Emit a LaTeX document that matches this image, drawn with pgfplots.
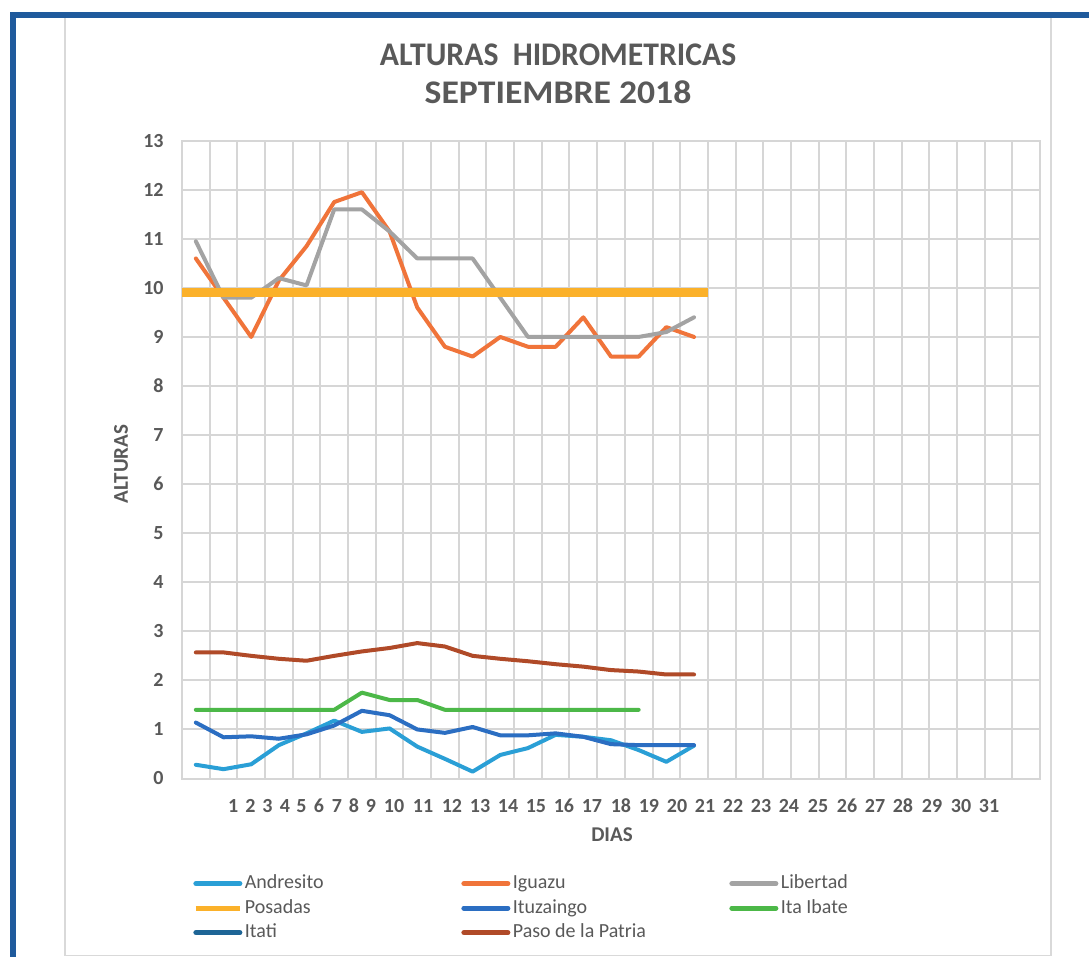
\documentclass[border=0pt]{standalone}
\usepackage{pgfplots}
\pgfplotsset{compat=1.18}
\usepackage{fontspec}
\setmainfont{Carlito}
\definecolor{frameblue}{HTML}{1F5A9C}
\definecolor{boxgray}{HTML}{D9D9D9}
\definecolor{gridgray}{HTML}{D6D6D6}
\definecolor{labelgray}{HTML}{595959}
\definecolor{cAndresito}{HTML}{2A9FD6}
\definecolor{cIguazu}{HTML}{F0743A}
\definecolor{cLibertad}{HTML}{A3A3A3}
\definecolor{cPosadas}{HTML}{FBB12A}
\definecolor{cItuzaingo}{HTML}{2B6EC2}
\definecolor{cItaIbate}{HTML}{4CB848}
\definecolor{cItati}{HTML}{1E6596}
\definecolor{cPaso}{HTML}{B04A28}
\begin{document}
\begin{tikzpicture}
\path[use as bounding box] (0pt,0pt) rectangle (544.5pt,-478.5pt);
\fill[white] (0pt,0pt) rectangle (544.5pt,-478.5pt);
\draw[boxgray, line width=0.7pt] (32.5pt,-8pt) -- (32.5pt,-478pt);
\draw[boxgray, line width=0.7pt] (525.5pt,-8pt) -- (525.5pt,-478pt);
\draw[boxgray, line width=0.5pt] (32.5pt,-477.8pt) -- (525.5pt,-477.8pt);
\draw[frameblue, line width=3pt] (6.3pt,-478.5pt) -- (6.3pt,-7.5pt) -- (544.5pt,-7.5pt);
\node[font=\fontsize{16.5}{20}\selectfont\bfseries, text=labelgray, anchor=base] at (279pt,-33pt) {\scalebox{0.96}[1]{ALTURAS\ \ HIDROMETRICAS}};
\node[font=\fontsize{16.5}{20}\selectfont\bfseries, text=labelgray, anchor=base] at (279pt,-52pt) {\scalebox{1.08}[1]{SEPTIEMBRE 2018}};
\node[font=\fontsize{10.5}{12}\selectfont\bfseries, text=labelgray, rotate=90] at (60.5pt,-232pt) {ALTURAS};
\node[font=\fontsize{10.5}{12}\selectfont\bfseries, text=labelgray] at (306pt,-417.5pt) {DIAS};
\begin{axis}[
  at={(91pt,-389.25pt)}, anchor=south west,
  width=429pt, height=318.9pt, scale only axis,
  xmin=0.5, xmax=31.5, ymin=0, ymax=13,
  ytick={0,1,...,13},
  xtick={2.354,2.975,3.589,4.222,4.818,5.45,6.10,6.715,7.33,8.16,9.21,10.255,11.267,12.28,13.29,14.30,15.31,16.36,17.37,18.385,19.40,20.41,21.42,22.43,23.48,24.53,25.54,26.55,27.60,28.65,29.66},
  xticklabels={1,2,3,4,5,6,7,8,9,10,11,12,13,14,15,16,17,18,19,20,21,22,23,24,25,26,27,28,29,30,31},
  minor xtick={1.5,2.5,...,30.5},
  xminorgrids=true, ymajorgrids=true, xmajorgrids=false,
  major grid style={gridgray, line width=1pt},
  minor grid style={gridgray, line width=1pt},
  axis line style={gridgray, line width=1pt},
  major tick length=0pt, minor tick length=0pt,
  tick style={draw=none},
  /pgf/number format/assume math mode=true,
  tick label style={font=\fontsize{10}{12}\selectfont\bfseries, text=labelgray},
  xticklabel style={anchor=base, yshift=-16.75pt, inner sep=0pt},
  yticklabel style={anchor=east, xshift=-9pt, inner sep=0pt},
  clip=false,
  legend columns=3,
  legend cell align=left,
  legend style={at={(0.0128,-0.145)}, anchor=north west, draw=none, fill=none,
    font=\fontsize{10}{12}\selectfont, text=labelgray,
    row sep=0pt, inner sep=0pt,
    nodes={inner sep=1.25pt, text height=7.5pt, text depth=2.25pt},
    /tikz/every even column/.append style={column sep=0pt}},
  legend image code/.code={\draw[#1, line width=2.5pt] (0pt,0pt) -- (22pt,0pt);},
  every axis plot/.append style={line join=round, line cap=round},
]
\addplot[cAndresito, line width=2pt] coordinates {
(1,0.28)(2,0.19)(3,0.29)(4,0.68)(5,0.92)(6,1.18)(7,0.95)(8,1.02)(9,0.65)(10,0.40)
(11,0.14)(12,0.48)(13,0.62)(14,0.89)(15,0.85)(16,0.78)(17,0.58)(18,0.34)(19,0.67)};
\addlegendentry{\makebox[107pt][l]{Andresito}}
\addplot[cIguazu, line width=2pt] coordinates {
(1,10.6)(2,9.8)(3,9.0)(4,10.15)(5,10.85)(6,11.75)(7,11.95)(8,11.15)(9,9.6)(10,8.8)
(11,8.6)(12,9.0)(13,8.8)(14,8.8)(15,9.4)(16,8.6)(17,8.6)(18,9.2)(19,9.0)};
\addlegendentry{\makebox[107pt][l]{Iguazu}}
\addplot[cLibertad, line width=2pt] coordinates {
(1,10.95)(2,9.8)(3,9.8)(4,10.2)(5,10.05)(6,11.6)(7,11.6)(8,11.15)(9,10.6)(10,10.6)
(11,10.6)(12,9.8)(13,9.0)(14,9.0)(15,9.0)(16,9.0)(17,9.0)(18,9.1)(19,9.4)};
\addlegendentry{\makebox[107pt][l]{Libertad}}
\addplot[cPosadas, line width=4.5pt, line cap=butt] coordinates {(0.5,9.9)(19.5,9.9)};
\addlegendentry{\makebox[107pt][l]{Posadas}}
\addplot[cItuzaingo, line width=2pt] coordinates {
(1,1.14)(2,0.84)(3,0.86)(4,0.81)(5,0.90)(6,1.08)(7,1.38)(8,1.29)(9,1.0)(10,0.93)
(11,1.05)(12,0.88)(13,0.88)(14,0.92)(15,0.85)(16,0.70)(17,0.68)(18,0.68)(19,0.68)};
\addlegendentry{\makebox[107pt][l]{Ituzaingo}}
\addplot[cItaIbate, line width=2pt] coordinates {
(1,1.4)(2,1.4)(3,1.4)(4,1.4)(5,1.4)(6,1.4)(7,1.75)(8,1.6)(9,1.6)(10,1.4)
(11,1.4)(12,1.4)(13,1.4)(14,1.4)(15,1.4)(16,1.4)(17,1.4)};
\addlegendentry{\makebox[107pt][l]{Ita Ibate}}
\addlegendimage{cItati, line width=2pt}
\addlegendentry{\makebox[107pt][l]{Itati}}
\addplot[cPaso, line width=2pt] coordinates {
(1,2.57)(2,2.57)(3,2.50)(4,2.44)(5,2.40)(6,2.50)(7,2.59)(8,2.66)(9,2.76)(10,2.69)
(11,2.50)(12,2.44)(13,2.39)(14,2.33)(15,2.28)(16,2.21)(17,2.18)(18,2.12)(19,2.12)};
\addlegendentry{\makebox[107pt][l]{Paso de la Patria}}
\end{axis}
\end{tikzpicture}
\end{document}
